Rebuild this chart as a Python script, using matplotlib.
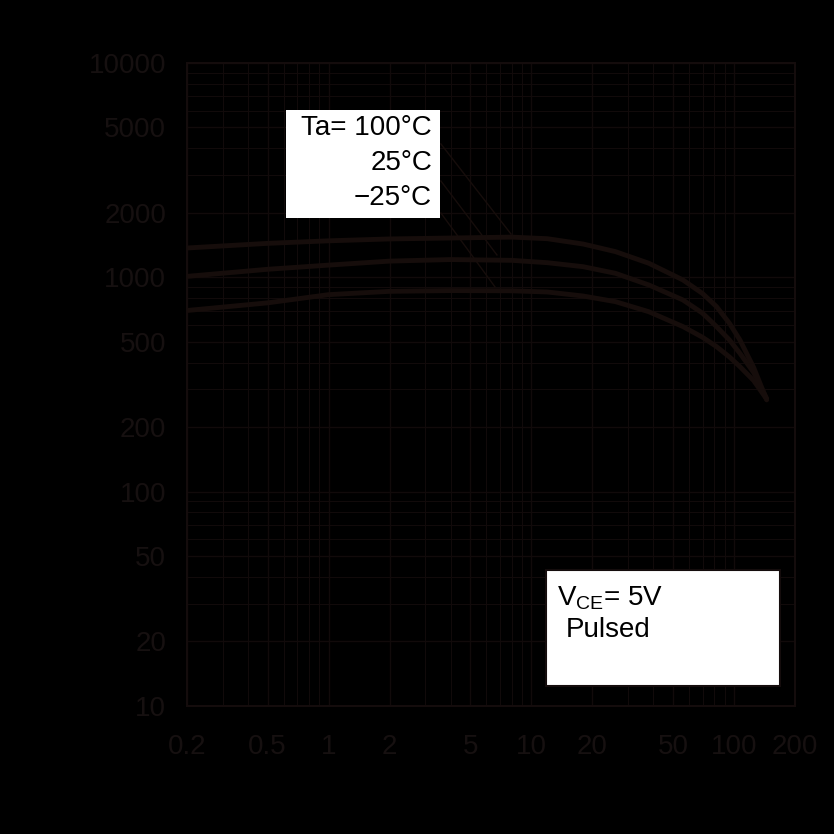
import numpy as np
import matplotlib.pyplot as plt
from matplotlib.patches import Rectangle

plt.rcParams['font.family'] = ['Liberation Sans', 'DejaVu Sans']
plt.rcParams['mathtext.default'] = 'regular'

# collector current (mA) vs DC current gain
ic_100 = [0.2, 0.5, 1, 2, 5, 8, 12, 18, 26, 38, 56, 70, 82, 95, 107, 125, 145]
hfe_100 = [1370, 1440, 1480, 1510, 1530, 1540, 1514, 1430, 1318, 1163, 972, 840, 730, 610, 510, 380, 268]

ic_25 = [0.2, 0.5, 1, 2, 4, 8, 12, 18, 26, 38, 56, 70, 82, 95, 107, 125, 145]
hfe_25 = [1010, 1090, 1140, 1190, 1210, 1200, 1170, 1121, 1044, 921, 784, 680, 589, 510, 442, 360, 272]

ic_m25 = [0.2, 0.5, 1, 2, 4, 8, 12, 18, 26, 38, 56, 70, 82, 95, 107, 125, 145]
hfe_m25 = [700, 760, 830, 860, 867, 865, 854, 818, 770, 691, 589, 525, 475, 425, 383, 330, 270]

x_ticks = [0.2, 0.5, 1, 2, 5, 10, 20, 50, 100, 200]
x_labels = ['0.2', '0.5', '1', '2', '5', '10', '20', '50', '100', '200']
y_ticks = [10, 20, 50, 100, 200, 500, 1000, 2000, 5000, 10000]
y_labels = ['10', '20', '50', '100', '200', '500', '1000', '2000', '5000', '10000']

# leader lines from the label box to each curve
leaders = [((3.58, 4190), (7.94, 1592)),
           ((3.58, 2814), (6.77, 1271)),
           ((3.58, 1995), (6.62, 902))]

bg = 'black'
curve_c = '#160d0b'
grid_c = '#110a0a'
text_c = '#161010'

fig = plt.figure(figsize=(8.34, 8.34), dpi=100, facecolor=bg)
ax = fig.add_axes([0.2242, 0.1535, 0.729, 0.771])
ax.set_facecolor(bg)
ax.set_xscale('log')
ax.set_yscale('log')
ax.set_xlim(0.2, 200)
ax.set_ylim(10, 10000)

ax.grid(True, which='major', color=grid_c, lw=1.0)
ax.grid(True, which='minor', color=grid_c, lw=0.8)

for s in ax.spines.values():
    s.set_color('#140c0c')
    s.set_linewidth(1.5)

ax.set_xticks(x_ticks)
ax.set_xticklabels(x_labels)
ax.set_yticks(y_ticks)
ax.set_yticklabels(y_labels)
ax.tick_params(which='both', length=0, labelsize=20, labelcolor=text_c)
ax.tick_params(axis='x', pad=20)
ax.tick_params(axis='y', pad=15)

for xs, ys in [(ic_100, hfe_100), (ic_25, hfe_25), (ic_m25, hfe_m25)]:
    ax.plot(xs, ys, color=curve_c, lw=3.5, solid_capstyle='round',
            solid_joinstyle='round', zorder=3)

for (x0, y0), (x1, y1) in leaders:
    ax.plot([x0, x1], [y0, y1], color=curve_c, lw=1.0, zorder=3)

ax.add_patch(Rectangle((0.163, 0.759), 0.253, 0.168, transform=ax.transAxes,
                       facecolor='white', edgecolor='none', zorder=5))
ax.text(0.403, 0.899, 'Ta= 100°C', transform=ax.transAxes, ha='right', va='center',
        fontsize=20, color='black', zorder=6)
ax.text(0.403, 0.845, '25°C', transform=ax.transAxes, ha='right', va='center',
        fontsize=20, color='black', zorder=6)
ax.text(0.403, 0.790, '\u221225°C', transform=ax.transAxes, ha='right', va='center',
        fontsize=20, color='black', zorder=6)

ax.add_patch(Rectangle((0.590, 0.031), 0.385, 0.1805, transform=ax.transAxes,
                       facecolor='white', edgecolor='#140c0c', lw=1.5, zorder=5))
ax.text(0.609, 0.167, 'V$_{CE}$= 5V', transform=ax.transAxes, ha='left', va='center',
        fontsize=20, color='black', zorder=6)
ax.text(0.623, 0.118, 'Pulsed', transform=ax.transAxes, ha='left', va='center',
        fontsize=20, color='black', zorder=6)

fig.savefig('out.png', dpi=100, facecolor=bg)
